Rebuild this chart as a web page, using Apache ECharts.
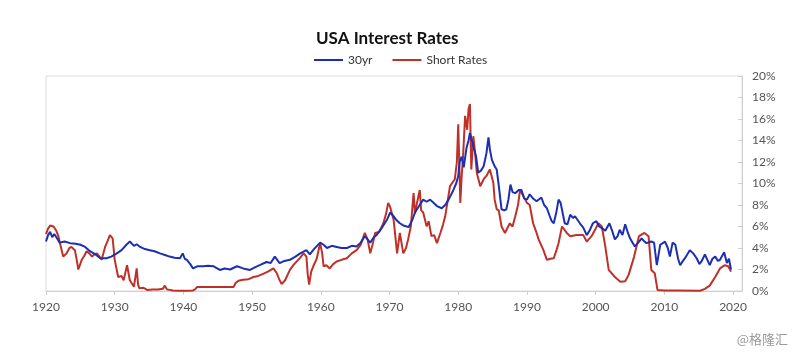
<!DOCTYPE html>
<html>
<head>
<meta charset="utf-8">
<script src="https://cdn.jsdelivr.net/npm/echarts@6/dist/echarts.min.js"></script>
<style>html,body{margin:0;padding:0;background:#fff;}#c{width:796px;height:354px;}</style>
</head>
<body>
<div id="c"></div>
<script>
const xTicks = [1920, 1930, 1940, 1950, 1960, 1970, 1980, 1990, 2000, 2010, 2020];
const yTicks = [0, 2, 4, 6, 8, 10, 12, 14, 16, 18, 20];

const longYears = [1920.0,1920.3,1920.6,1920.9,1921.2,1921.6,1922.0,1922.7,1923.5,1924.3,1925.0,1925.7,1926.4,1927.2,1927.9,1928.8,1929.5,1930.3,1931.0,1931.7,1932.2,1932.8,1933.2,1933.7,1934.4,1935.1,1935.8,1936.6,1937.3,1938.0,1938.7,1939.5,1939.9,1940.2,1940.5,1941.0,1941.4,1942.0,1942.9,1943.6,1944.4,1945.3,1946.0,1946.8,1947.8,1948.7,1949.7,1950.4,1951.1,1952.1,1952.7,1953.3,1954.0,1954.7,1955.5,1956.3,1957.0,1957.9,1958.4,1959.0,1959.9,1960.4,1960.9,1961.6,1962.3,1963.0,1963.8,1964.5,1965.2,1965.8,1966.4,1967.2,1967.7,1968.1,1968.8,1969.6,1970.1,1970.6,1971.0,1971.5,1972.0,1972.5,1972.8,1973.3,1973.7,1974.3,1974.9,1975.4,1975.9,1976.4,1976.9,1977.6,1978.1,1978.6,1979.3,1979.7,1980.0,1980.2,1980.5,1980.8,1981.2,1981.5,1981.7,1981.9,1982.2,1982.6,1982.9,1983.3,1983.7,1984.1,1984.4,1984.6,1984.9,1985.3,1985.6,1985.9,1986.3,1986.7,1987.0,1987.3,1987.6,1987.9,1988.3,1988.8,1989.2,1989.6,1990.0,1990.4,1990.9,1991.4,1992.1,1992.5,1992.9,1993.3,1993.6,1993.9,1994.3,1994.6,1994.9,1995.5,1995.9,1996.3,1996.7,1997.0,1997.7,1998.2,1998.7,1999.1,1999.6,2000.1,2000.5,2000.9,2001.4,2002.0,2002.4,2002.8,2003.2,2003.5,2003.9,2004.3,2004.7,2005.0,2005.7,2006.2,2006.7,2007.1,2007.4,2008.1,2008.5,2008.9,2009.4,2010.1,2010.5,2010.8,2011.2,2011.6,2012.0,2012.3,2012.7,2013.0,2013.7,2014.2,2014.7,2015.1,2015.4,2015.9,2016.6,2017.0,2017.4,2017.8,2018.1,2018.7,2019.1,2019.4,2019.7];
const longRates = [4.6,5.2,5.5,5.0,5.3,4.9,4.5,4.6,4.45,4.4,4.3,4.1,3.7,3.4,3.05,3.05,3.2,3.5,3.8,4.3,4.6,4.2,4.35,4.1,3.9,3.8,3.7,3.5,3.35,3.2,3.1,3.05,3.5,3.0,2.9,2.5,2.1,2.3,2.3,2.35,2.3,1.96,2.1,2.0,2.3,2.1,1.96,2.2,2.4,2.7,2.6,3.2,2.6,2.8,2.9,3.2,3.5,3.8,3.4,3.9,4.5,4.3,4.0,4.2,4.1,4.0,4.0,4.2,4.15,4.5,5.1,4.5,5.0,5.2,5.8,6.6,7.3,6.95,6.6,6.3,6.1,6.0,5.95,6.6,7.3,7.9,8.5,8.3,8.5,8.2,7.9,7.7,8.0,8.5,9.4,10.0,10.7,12.0,12.5,11.5,13.3,14.0,14.7,14.2,13.5,12.5,11.0,11.2,11.6,12.8,14.3,13.2,12.2,11.6,11.3,9.8,7.6,7.5,7.6,8.5,9.9,9.2,9.1,9.4,9.4,8.6,8.5,9.0,8.6,8.35,8.7,8.0,7.7,7.0,6.5,6.3,7.4,8.5,8.2,6.3,6.2,7.1,6.8,6.95,6.3,5.9,5.2,5.6,6.3,6.5,6.0,5.85,5.6,6.3,5.6,4.8,5.1,5.7,5.2,6.2,5.4,4.9,4.15,4.5,4.9,4.6,4.45,4.6,4.5,2.4,4.3,4.6,4.0,3.2,4.5,4.3,3.0,2.4,2.8,3.05,3.8,3.5,3.05,2.5,2.75,3.4,2.4,3.0,3.2,2.8,2.9,3.6,2.6,3.0,2.0];

const shortYears = [1920.0,1920.3,1920.6,1921.1,1921.5,1921.8,1922.2,1922.5,1923.0,1923.4,1923.7,1924.2,1924.5,1924.7,1925.2,1925.6,1925.9,1926.3,1926.7,1927.0,1927.4,1927.8,1928.1,1928.6,1929.0,1929.3,1929.7,1930.0,1930.5,1931.0,1931.3,1931.8,1932.2,1932.5,1932.8,1933.2,1933.4,1933.6,1934.2,1934.7,1935.5,1936.3,1937.0,1937.3,1937.6,1938.5,1939.5,1940.5,1941.4,1941.7,1942.0,1947.3,1947.6,1948.0,1948.7,1949.5,1950.2,1950.9,1951.6,1952.3,1953.1,1953.6,1954.0,1954.3,1954.8,1955.5,1956.0,1956.5,1957.0,1957.5,1957.9,1958.1,1958.3,1958.6,1958.9,1959.4,1959.9,1960.2,1960.4,1960.8,1961.3,1961.8,1962.3,1963.0,1963.8,1964.5,1965.2,1965.8,1966.4,1966.8,1967.2,1967.6,1967.9,1968.5,1969.1,1969.5,1969.8,1970.1,1970.6,1971.1,1971.5,1972.0,1972.4,1972.7,1973.1,1973.5,1973.7,1974.0,1974.4,1974.6,1974.9,1975.4,1975.7,1976.1,1976.5,1976.9,1977.4,1977.8,1978.1,1978.8,1979.5,1979.8,1980.0,1980.3,1980.5,1980.7,1981.0,1981.3,1981.5,1981.7,1981.9,1982.2,1982.5,1982.7,1983.2,1983.7,1984.1,1984.6,1985.1,1985.3,1985.6,1985.9,1986.3,1986.8,1987.5,1987.9,1988.3,1988.7,1989.0,1989.5,1990.0,1990.4,1990.9,1991.3,1991.7,1992.4,1992.9,1993.4,1993.9,1994.3,1994.6,1995.1,1995.8,1996.3,1997.2,1998.2,1998.7,1999.4,2000.0,2000.4,2000.9,2001.4,2001.9,2002.8,2003.6,2004.3,2004.8,2005.6,2006.3,2007.1,2007.7,2008.1,2008.6,2009.0,2010.0,2012.0,2015.2,2015.9,2016.6,2017.4,2018.1,2018.8,2019.3,2019.7];
const shortRates = [5.3,5.8,6.1,6.0,5.6,5.1,4.0,3.2,3.5,4.0,4.1,3.8,2.8,2.0,2.9,3.3,3.7,3.5,3.2,3.4,3.5,3.2,2.9,4.1,4.7,5.2,4.9,2.9,1.3,1.4,1.0,2.4,1.0,0.7,0.4,2.1,0.6,0.25,0.3,0.1,0.15,0.15,0.2,0.5,0.15,0.05,0.02,0.02,0.05,0.15,0.375,0.375,0.75,0.95,1.05,1.1,1.3,1.4,1.6,1.8,2.1,1.65,1.0,0.65,1.0,1.96,2.4,2.75,3.1,3.5,3.2,1.5,0.6,1.8,2.3,3.0,4.45,3.5,2.3,2.4,2.1,2.5,2.75,2.9,3.05,3.5,3.8,4.3,5.4,4.8,3.5,4.5,5.4,5.5,6.3,7.2,8.2,7.8,6.6,3.5,5.4,3.5,4.0,4.8,6.0,9.1,7.2,8.2,9.4,7.5,7.3,6.0,6.5,5.1,5.2,4.45,5.4,6.2,6.95,9.75,10.4,12.0,15.5,8.2,10.7,12.5,16.3,15.0,16.9,17.4,11.3,14.4,12.5,11.0,9.75,10.4,10.7,11.3,10.1,8.5,7.6,7.5,6.0,5.4,6.3,6.0,6.95,8.0,9.4,8.8,8.2,8.0,6.3,5.6,4.8,3.8,2.9,3.0,3.05,3.8,4.45,6.0,5.4,5.1,5.2,5.2,4.6,5.1,5.8,6.3,6.0,4.15,1.96,1.3,0.87,0.9,1.5,3.2,5.1,5.4,5.1,1.96,1.65,0.1,0.05,0.05,0.02,0.2,0.5,1.3,2.1,2.4,2.3,1.8];

const blue = '#1c2fb3';
const red = '#bf3128';

const longData = longYears.map((y, i) => [y, longRates[i]]);
const shortData = shortYears.map((y, i) => [y, shortRates[i]]);

const chart = echarts.init(document.getElementById('c'));
chart.setOption({
  animation: false,
  backgroundColor: '#fff',
  title: {
    text: 'USA Interest Rates',
    left: 311, top: 25,
    textStyle: { fontFamily: 'Lato', fontWeight: 'bold', fontSize: 17, color: '#111' }
  },
  legend: {
    left: 309, top: 49,
    icon: 'rect', itemWidth: 29, itemHeight: 2, itemGap: 20,
    textStyle: { fontFamily: 'Lato', fontSize: 12, color: '#333' },
    data: ['30yr', 'Short Rates']
  },
  grid: { left: 46, right: 54, top: 76, bottom: 63, show: true, borderColor: '#dcdcdc', borderWidth: 1 },
  xAxis: {
    type: 'value', min: 1920, max: 2021.3, interval: 10,
    axisLine: { show: true, lineStyle: { color: '#cfcfcf' } },
    axisTick: { show: true, length: 4, lineStyle: { color: '#cfcfcf' } },
    splitLine: { show: false },
    axisLabel: {
      fontFamily: 'Lato', fontSize: 12, color: '#555', margin: 10,
      showMaxLabel: false,
      formatter: v => (xTicks.indexOf(v) >= 0 ? String(v) : '')
    }
  },
  yAxis: {
    type: 'value', position: 'right', min: 0, max: 20, interval: 2,
    axisLine: { show: true, lineStyle: { color: '#cfcfcf' } },
    axisTick: { show: true, inside: true, length: 4, lineStyle: { color: '#cfcfcf' } },
    splitLine: { show: false },
    axisLabel: {
      fontFamily: 'Lato', fontSize: 12, color: '#555', margin: 10,
      formatter: v => (yTicks.indexOf(v) >= 0 ? v + '%' : '')
    }
  },
  graphic: [{
    type: 'text', right: 8, top: 333,
    style: { text: '@格隆汇', fontFamily: 'Noto Sans CJK SC', fontSize: 13, fill: '#9a9a9a' }
  }],
  series: [
    { name: '30yr', type: 'line', data: longData, showSymbol: false, symbol: 'none',
      lineStyle: { color: blue, width: 2 }, itemStyle: { color: blue }, z: 3 },
    { name: 'Short Rates', type: 'line', data: shortData, showSymbol: false, symbol: 'none',
      lineStyle: { color: red, width: 2 }, itemStyle: { color: red }, z: 2 }
  ]
});
</script>
</body>
</html>
